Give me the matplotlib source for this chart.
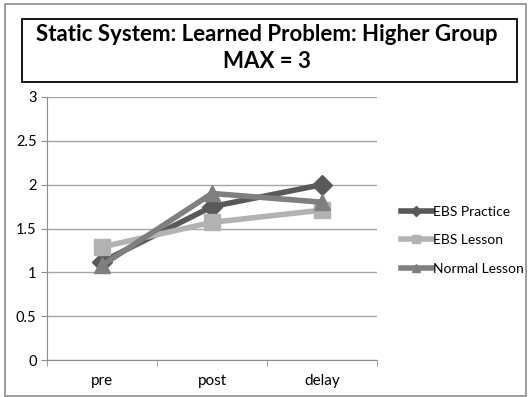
import numpy as np
import matplotlib.pyplot as plt
from matplotlib.patches import Rectangle

categories = ['pre', 'post', 'delay']
ebs_practice = [1.12, 1.75, 2.0]
ebs_lesson = [1.29, 1.57, 1.71]
normal_lesson = [1.08, 1.9, 1.8]
yticks = [0, 0.5, 1, 1.5, 2, 2.5, 3]

plt.rcParams['font.family'] = ['Lato', 'DejaVu Sans']

fig = plt.figure(figsize=(5.28, 3.97), dpi=100)
# outer chart border
fig.patches.append(Rectangle((5/528, 1/397), 521/528, 392/397, transform=fig.transFigure,
                             fill=False, edgecolor='#8c8c8c', lw=1.2))
# title box
fig.patches.append(Rectangle((22/528, 1-82/397), 495/528, 63/397, transform=fig.transFigure,
                             fill=False, edgecolor='black', lw=1.3))
fig.text(0.506, 1-48/397, 'Static System: Learned Problem: Higher Group\nMAX = 3',
         ha='center', va='center', fontsize=16, fontweight='bold', linespacing=1.3)

ax = fig.add_axes([47/528, 1-360/397, 330/528, 263/397])
x = np.arange(len(categories))
ax.plot(x, ebs_practice, color='#595959', lw=4, marker='D', ms=10, label='EBS Practice', zorder=3)
ax.plot(x, ebs_lesson, color='#b2b2b2', lw=4, marker='s', ms=11, label='EBS Lesson', zorder=3)
ax.plot(x, normal_lesson, color='#7f7f7f', lw=4, marker='^', ms=11, label='Normal Lesson', zorder=3)

ax.set_xlim(-0.5, 2.5)
ax.set_ylim(0, 3)
ax.set_yticks(yticks)
ax.set_yticklabels(['0', '0.5', '1', '1.5', '2', '2.5', '3'])
ax.set_xticks(x)
ax.set_xticklabels(categories)
ax.set_xticks([-0.5, 0.5, 1.5, 2.5], minor=True)
ax.tick_params(axis='x', which='major', length=0, pad=10, labelsize=11)
ax.tick_params(axis='x', which='minor', length=4, color='#8c8c8c')
ax.tick_params(axis='y', length=4, color='#8c8c8c', labelsize=10.5)
ax.grid(axis='y', color='#a6a6a6', lw=1)
ax.set_axisbelow(True)
for s in ['top', 'right']:
    ax.spines[s].set_visible(False)
ax.spines['left'].set_color('#8c8c8c')
ax.spines['bottom'].set_color('#8c8c8c')

ax.legend(loc='center left', bbox_to_anchor=(1.035, 0.455), frameon=False, fontsize=10,
          handlelength=2.2, handletextpad=0.1, labelspacing=1.2, markerscale=0.55)

fig.savefig('out.png', dpi=100)
